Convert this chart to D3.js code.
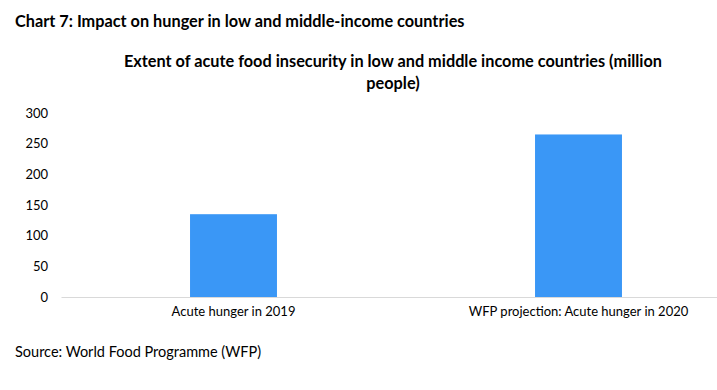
<!DOCTYPE html>
<html>
<head>
<meta charset="utf-8">
<script src="https://cdn.jsdelivr.net/npm/d3@7"></script>
<style>
  body { margin: 0; background: #fff; }
  text { font-family: Lato, "Open Sans", sans-serif; fill: #000; }
</style>
</head>
<body>
<svg id="chart" width="717" height="390"></svg>
<script>
// data
var categories = ["Acute hunger in 2019", "WFP projection: Acute hunger in 2020"];
var values = [135, 265];
var yTicks = [0, 50, 100, 150, 200, 250, 300];

var svg = d3.select("#chart");

// title and chart heading
svg.append("text")
    .attr("x", 15).attr("y", 27)
    .style("font-size", "16.3px").style("font-weight", "bold")
    .text("Chart 7: Impact on hunger in low and middle-income countries");

var heading = ["Extent of acute food insecurity in low and middle income countries (million", "people)"];
svg.selectAll(".heading")
    .data(heading)
    .enter().append("text")
    .attr("class", "heading")
    .attr("x", 393)
    .attr("y", function (d, i) { return 67 + i * 22; })
    .attr("text-anchor", "middle")
    .style("font-size", "16.3px").style("font-weight", "bold")
    .text(function (d) { return d; });

// scales
var x = d3.scaleBand()
    .domain(categories)
    .range([61, 751])
    .paddingInner(0.748)
    .paddingOuter(0.374);

var y = d3.scaleLinear()
    .domain([0, 300])
    .range([297, 113]);

// y axis labels, no line
var yAxis = svg.append("g")
    .attr("transform", "translate(50,0)")
    .call(d3.axisLeft(y).tickValues(yTicks).tickSize(0).tickPadding(2));
yAxis.select(".domain").remove();
yAxis.selectAll("text").style("font-size", "13px").style("font-family", "Lato, sans-serif");

// bars
svg.selectAll(".bar")
    .data(values)
    .enter().append("rect")
    .attr("class", "bar")
    .attr("x", function (d, i) { return x(categories[i]); })
    .attr("y", function (d) { return y(d); })
    .attr("width", x.bandwidth())
    .attr("height", function (d) { return y(0) - y(d); })
    .attr("fill", "#3a97f6");

// x axis
var xAxis = svg.append("g")
    .attr("transform", "translate(0," + y(0) + ")")
    .call(d3.axisBottom(x).tickSize(0).tickPadding(10).tickSizeOuter(0));
xAxis.select(".domain").attr("stroke", "#d9d9d9");
xAxis.selectAll("text").style("font-size", "13px").style("font-family", "Lato, sans-serif");

// source
svg.append("text")
    .attr("x", 15).attr("y", 357)
    .style("font-size", "14.5px")
    .text("Source: World Food Programme (WFP)");
</script>
</body>
</html>
